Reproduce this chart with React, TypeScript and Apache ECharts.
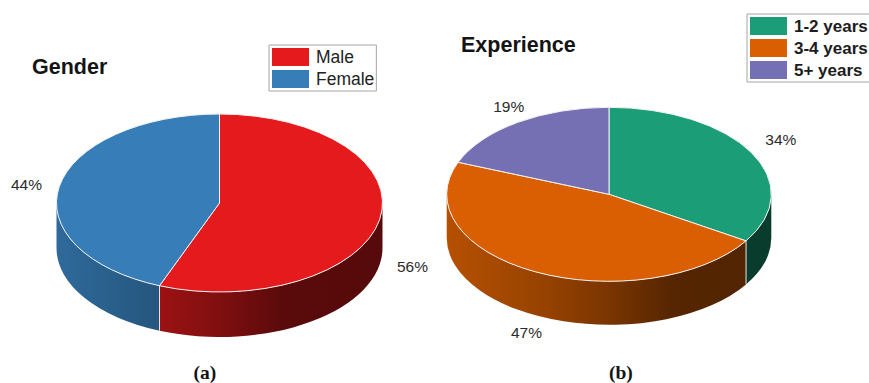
import React, { useEffect, useRef } from "react";
import * as echarts from "echarts";

// Survey breakdowns, in percent
const genderNames = ["Male", "Female"];
const genderValues = [56, 44];
const genderColors = ["#e41a1c", "#377eb8"];

const experienceNames = ["1-2 years", "3-4 years", "5+ years"];
const experienceValues = [34, 47, 19];
const experienceColors = ["#1b9e77", "#d95f02", "#7570b3"];

// Brightness of the pie's rim from its left edge to its right edge
const rimShade: [number, number][] = [
  [0, 0.84],
  [0.32, 0.68],
  [0.5, 0.56],
  [0.7, 0.39],
  [1, 0.38],
];

const SANS = '"Liberation Sans", Arial, sans-serif';
const SERIF = '"Liberation Serif", "Times New Roman", serif';

type Disc = {
  cx: number;
  cy: number;
  rx: number;
  ry: number;
  depth: number;
  labelNudge: [number, number][];
};

const scaleColor = (hex: string, f: number) => {
  const n = parseInt(hex.slice(1), 16);
  const c = [(n >> 16) & 255, (n >> 8) & 255, n & 255].map((v) => Math.round(v * f));
  return `rgb(${c[0]},${c[1]},${c[2]})`;
};

// Point on the ellipse, angle measured clockwise from twelve o'clock
const rimPoint = (d: Disc, a: number): [number, number] => [
  d.cx + d.rx * Math.sin(a),
  d.cy - d.ry * Math.cos(a),
];

const arcTo = (d: Disc, p: [number, number], span: number, sweep: number) =>
  `A ${d.rx} ${d.ry} 0 ${span > Math.PI ? 1 : 0} ${sweep} ${p[0]} ${p[1]}`;

function pieSeries(names: string[], values: number[], colors: string[], disc: Disc) {
  const total = values.reduce((s, v) => s + v, 0);
  let running = 0;
  return names.map((name, i) => {
    const startShare = running / total;
    running += values[i];
    const color = colors[i];
    return {
      type: "custom",
      name,
      coordinateSystem: "none",
      silent: true,
      itemStyle: { color },
      data: [[values[i]]],
      renderItem: (_params: unknown, api: any) => {
        const value = api.value(0) as number;
        const a0 = startShare * 2 * Math.PI;
        const a1 = a0 + (value / total) * 2 * Math.PI;
        const children: any[] = [];

        // The rim only shows on the front half of the disc
        const w0 = Math.max(a0, Math.PI / 2);
        const w1 = Math.min(a1, (3 * Math.PI) / 2);
        if (w1 > w0) {
          const p0 = rimPoint(disc, w0);
          const p1 = rimPoint(disc, w1);
          const lo0: [number, number] = [p0[0], p0[1] + disc.depth];
          const lo1: [number, number] = [p1[0], p1[1] + disc.depth];
          children.push({
            type: "path",
            shape: {
              pathData: `M ${p0[0]} ${p0[1]} ${arcTo(disc, p1, w1 - w0, 1)} L ${lo1[0]} ${lo1[1]} ${arcTo(disc, lo0, w1 - w0, 0)} Z`,
            },
            style: {
              fill: new echarts.graphic.LinearGradient(
                disc.cx - disc.rx,
                0,
                disc.cx + disc.rx,
                0,
                rimShade.map(([offset, f]) => ({ offset, color: scaleColor(color, f) })),
                true,
              ),
            },
          });
          if (a0 > Math.PI / 2 && a0 < (3 * Math.PI) / 2) {
            children.push({
              type: "line",
              shape: { x1: p0[0], y1: p0[1], x2: lo0[0], y2: lo0[1] },
              style: { stroke: "#e6e6e6", lineWidth: 1 },
            });
          }
        }

        const s = rimPoint(disc, a0);
        const e = rimPoint(disc, a1);
        children.push({
          type: "path",
          shape: {
            pathData: `M ${disc.cx} ${disc.cy} L ${s[0]} ${s[1]} ${arcTo(disc, e, a1 - a0, 1)} Z`,
          },
          style: { fill: color, stroke: "#f2f2f2", lineWidth: 1, lineJoin: "round" },
        });

        // Percentage sits outside the disc, below the rim on the front half
        const mid = (a0 + a1) / 2;
        const c = Math.cos(mid);
        const kx = 1.21 - 0.13 * c * c;
        const [nx, ny] = disc.labelNudge[i];
        children.push({
          type: "text",
          style: {
            x: disc.cx + disc.rx * kx * Math.sin(mid) + nx,
            y: disc.cy - disc.ry * 1.2 * c + (c < 0 ? disc.depth : 0) + ny,
            text: `${value}%`,
            fill: "#2b2b2b",
            font: `15.5px ${SANS}`,
            align: "center",
            verticalAlign: "middle",
          },
        });
        return { type: "group", children };
      },
    };
  });
}

const genderDisc: Disc = {
  cx: 219.5,
  cy: 203,
  rx: 163,
  ry: 89,
  depth: 45,
  labelNudge: [
    [0, -1.5],
    [0, 2],
  ],
};
const experienceDisc: Disc = {
  cx: 609,
  cy: 194.3,
  rx: 162.3,
  ry: 87,
  depth: 43.5,
  labelNudge: [
    [4, -5],
    [-1, 2],
    [2, -1],
  ],
};

const panelTitle = (text: string, left: number, top: number) => ({
  text,
  left,
  top,
  padding: 0,
  textStyle: { fontFamily: SANS, fontSize: 21.5, fontWeight: "bold", color: "#141414" },
});

const caption = (text: string, left: number, top: number) => ({
  text,
  left,
  top,
  padding: 0,
  textStyle: { fontFamily: SERIF, fontSize: 19.5, fontWeight: "bold", color: "#141414" },
});

export default function App() {
  const ref = useRef<HTMLDivElement>(null);
  useEffect(() => {
    const chart = echarts.init(ref.current!, undefined, { renderer: "svg" });
    chart.setOption({
      animation: false,
      backgroundColor: "#ffffff",
      title: [
        panelTitle("Gender", 32, 56),
        panelTitle("Experience", 461, 34),
        caption("(a)", 193.5, 362),
        caption("(b)", 609, 362.5),
      ],
      legend: [
        {
          data: genderNames,
          left: 269,
          top: 45,
          orient: "vertical",
          padding: [3, 2, 3, 3],
          itemGap: 4,
          itemWidth: 37,
          itemHeight: 18,
          icon: "rect",
          borderColor: "#a6a6a6",
          borderWidth: 1,
          textStyle: {
            fontFamily: SANS,
            fontSize: 17.5,
            color: "#222222",
            padding: [0, 0, 0, 2],
          },
        },
        {
          data: experienceNames,
          left: 747,
          top: 14,
          orient: "vertical",
          padding: [3, 2, 3, 3],
          itemGap: 4,
          itemWidth: 37,
          itemHeight: 18,
          icon: "rect",
          borderColor: "#a6a6a6",
          borderWidth: 1,
          textStyle: {
            fontFamily: SANS,
            fontSize: 17,
            fontWeight: "bold",
            color: "#1c1c1c",
            padding: [0, 0, 0, 2],
          },
        },
      ],
      series: [
        ...pieSeries(genderNames, genderValues, genderColors, genderDisc),
        ...pieSeries(experienceNames, experienceValues, experienceColors, experienceDisc),
      ],
    });
    return () => chart.dispose();
  }, []);
  return (
    <div
      ref={ref}
      style={{ position: "absolute", left: 0, top: 0, width: 869, height: 383 }}
    />
  );
}
